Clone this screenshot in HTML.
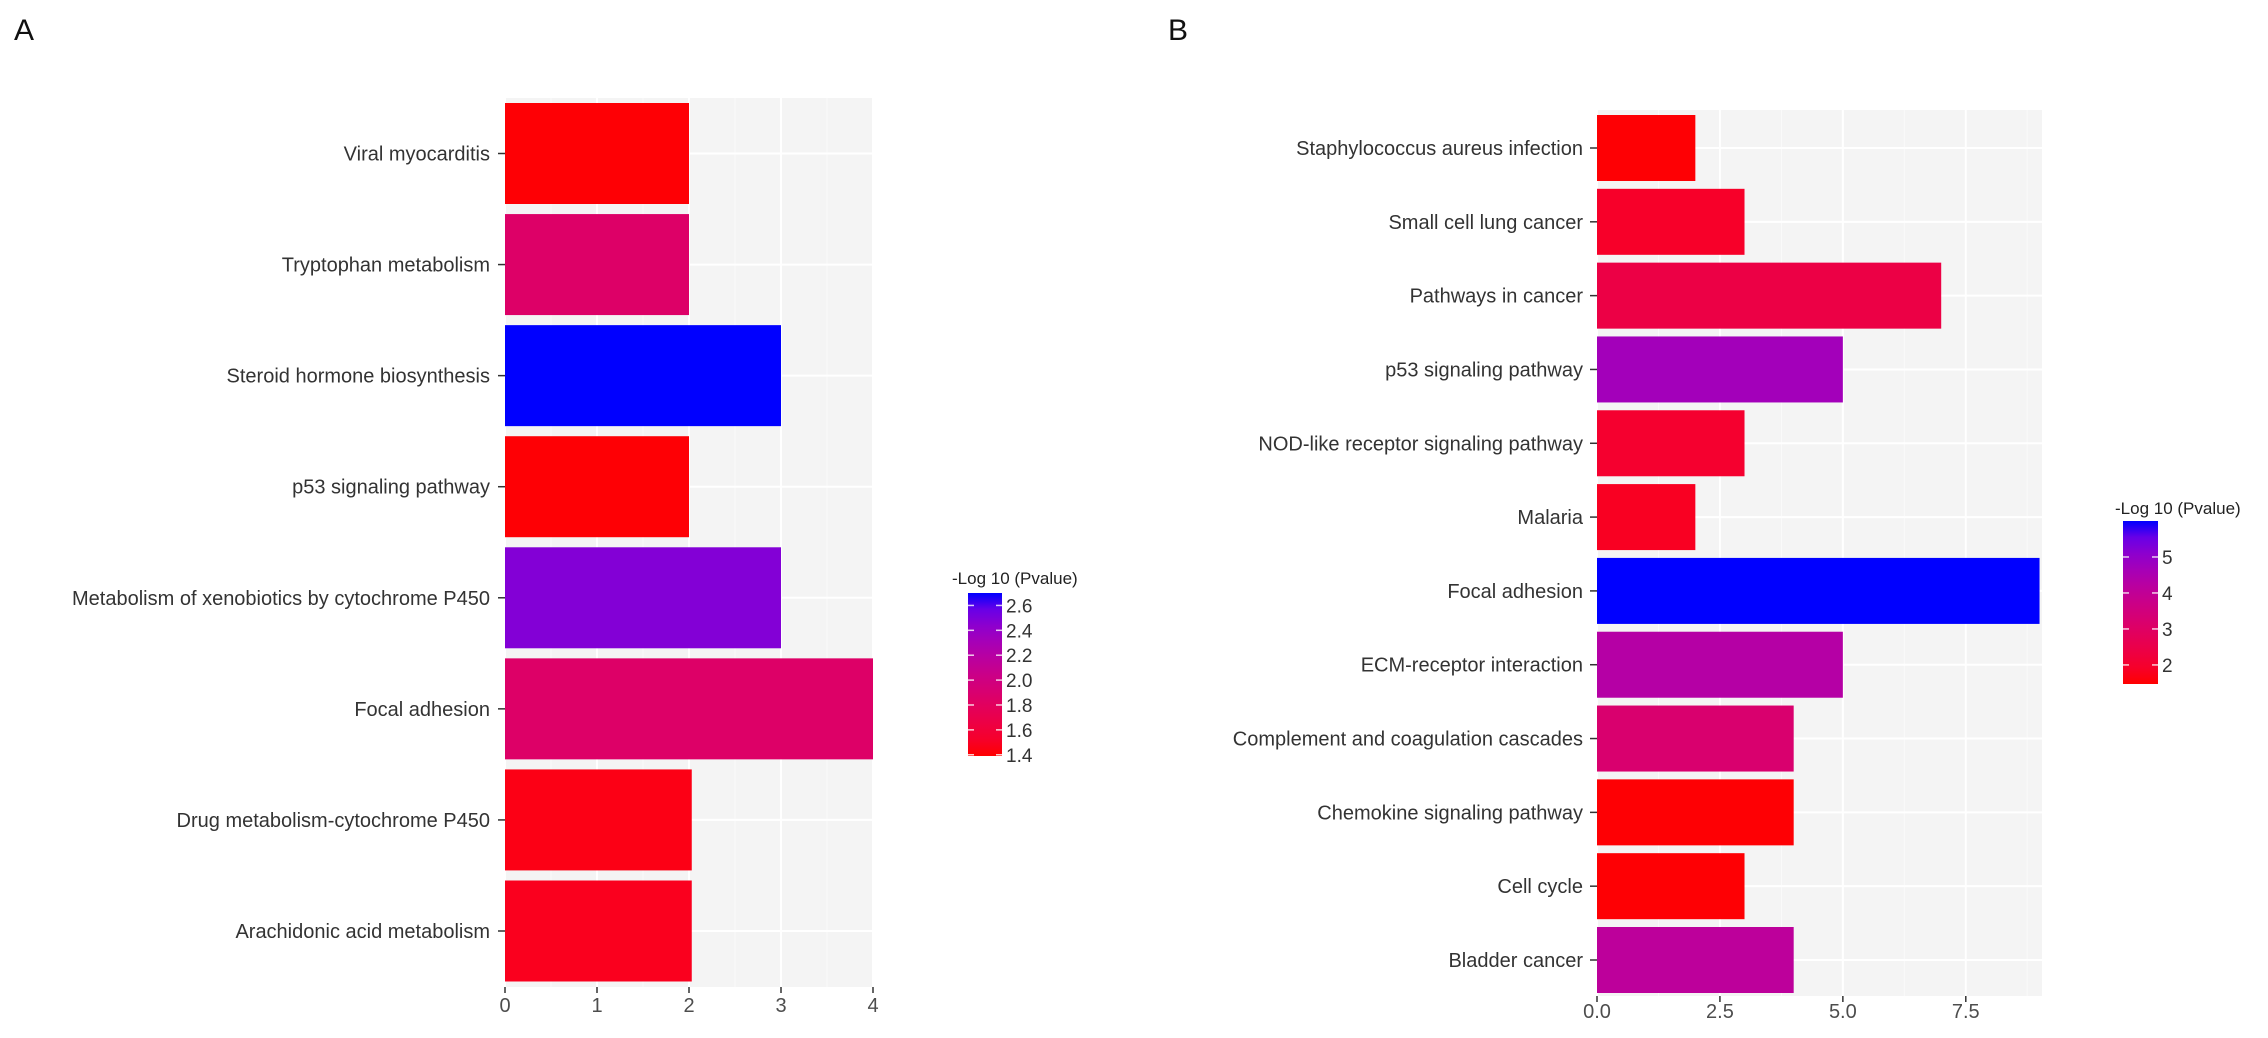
<!DOCTYPE html>
<html><head><meta charset="utf-8">
<style>
html,body{margin:0;padding:0;background:#fff;}
svg{display:block;font-family:"Liberation Sans",Arial,sans-serif;}
</style></head>
<body>
<svg id="fig" width="2268" height="1038" viewBox="0 0 2268 1038" xmlns="http://www.w3.org/2000/svg">
<defs>
<linearGradient id="gradA" x1="0" y1="1" x2="0" y2="0"></linearGradient>
<linearGradient id="gradB" x1="0" y1="1" x2="0" y2="0"></linearGradient>
</defs>
<text x="14" y="40" font-size="30" fill="#111">A</text>
<text x="1168" y="40" font-size="30" fill="#111">B</text>
<g id="gA"></g>
<g id="gB"></g>
</svg>
<script>
const catsA = ["Viral myocarditis","Tryptophan metabolism","Steroid hormone biosynthesis","p53 signaling pathway","Metabolism of xenobiotics by cytochrome P450","Focal adhesion","Drug metabolism-cytochrome P450","Arachidonic acid metabolism"];
const countsA = [2,2,3,2,3,4,2.03,2.03];
const pvalA = [1.40,1.85,2.70,1.40,2.48,1.85,1.44,1.47];
const xTicksA = [0,1,2,3,4];
const xTickLabelsA = ["0","1","2","3","4"];
const legendTicksA = [1.4,1.6,1.8,2.0,2.2,2.4,2.6];
const legendLabelsA = ["1.4","1.6","1.8","2.0","2.2","2.4","2.6"];

const catsB = ["Staphylococcus aureus infection","Small cell lung cancer","Pathways in cancer","p53 signaling pathway","NOD-like receptor signaling pathway","Malaria","Focal adhesion","ECM-receptor interaction","Complement and coagulation cascades","Chemokine signaling pathway","Cell cycle","Bladder cancer"];
const countsB = [2,3,7,5,3,2,9,5,4,4,3,4];
const pvalB = [1.5,1.9,2.4,4.7,2.0,1.8,6.0,4.3,3.2,1.5,1.5,4.1];
const xTicksB = [0,2.5,5,7.5];
const xTickLabelsB = ["0.0","2.5","5.0","7.5"];
const legendTicksB = [2,3,4,5];
const legendLabelsB = ["2","3","4","5"];

const NS="http://www.w3.org/2000/svg";
function mk(tag,attrs,parent){const e=document.createElementNS(NS,tag);for(const k in attrs)e.setAttribute(k,attrs[k]);parent.appendChild(e);return e;}
function s2l(c){c/=255;return c<=0.04045?c/12.92:Math.pow((c+0.055)/1.055,2.4);}
function l2s(c){c=c<=0.0031308?12.92*c:1.055*Math.pow(c,1/2.4)-0.055;return Math.max(0,Math.min(255,Math.round(c*255)));}
function toLab(r,g,b){r=s2l(r);g=s2l(g);b=s2l(b);let X=(r*0.4124+g*0.3576+b*0.1805)/0.95047,Y=r*0.2126+g*0.7152+b*0.0722,Z=(r*0.0193+g*0.1192+b*0.9505)/1.08883;const f=t=>t>0.008856?Math.cbrt(t):7.787*t+16/116;X=f(X);Y=f(Y);Z=f(Z);return [116*Y-16,500*(X-Y),200*(Y-Z)];}
function fromLab(L,a,bb){let Y=(L+16)/116,X=a/500+Y,Z=Y-bb/200;const fi=t=>t*t*t>0.008856?t*t*t:(t-16/116)/7.787;X=fi(X)*0.95047;Y=fi(Y);Z=fi(Z)*1.08883;const r=X*3.2406+Y*-1.5372+Z*-0.4986,g=X*-0.9689+Y*1.8758+Z*0.0415,b=X*0.0557+Y*-0.2040+Z*1.0570;return "rgb("+l2s(r)+","+l2s(g)+","+l2s(b)+")";}
const LR=toLab(255,0,0),LB=toLab(0,0,255);
function col(t){t=Math.max(0,Math.min(1,t));return fromLab(LR[0]+(LB[0]-LR[0])*t,LR[1]+(LB[1]-LR[1])*t,LR[2]+(LB[2]-LR[2])*t);}

function drawPanel(g,cfg){
  const {cats,counts,pvals,xTicks,xLabels,left,right,top,bottom,xmax,firstC,lastC,barH,minor,pmin,pmax,tickLblY,lblX,prefix}=cfg;
  const xs=v=>left+(v/xmax)*(right-left);
  const slot=(lastC-firstC)/(cats.length-1);
  const ys=i=>firstC+i*slot;
  const bg=mk("rect",{x:left,y:top,width:right-left,height:bottom-top,fill:"#f4f4f4"},g);
  
  
  minor.forEach(v=>{const l=mk("line",{x1:xs(v),x2:xs(v),y1:top,y2:bottom,stroke:"#fafafa","stroke-width":1},g);
    
    });
  xTicks.forEach(v=>{const l=mk("line",{x1:xs(v),x2:xs(v),y1:top,y2:bottom,stroke:"#fff","stroke-width":2},g);
    
    });
  cats.forEach((c,i)=>{const l=mk("line",{x1:left,x2:right,y1:ys(i),y2:ys(i),stroke:"#fff","stroke-width":2},g);
    
    });
  cats.forEach((c,i)=>{
    const t=(pvals[i]-pmin)/(pmax-pmin);
    const r=mk("rect",{x:xs(0),y:ys(i)-barH/2,width:xs(counts[i])-xs(0),height:barH,fill:col(t)},g);
    
    
    const tk=mk("line",{x1:left-7,x2:left,y1:ys(i),y2:ys(i),stroke:"#333","stroke-width":1.5},g);
    
    
    const tx=mk("text",{x:lblX,y:ys(i)+7,"text-anchor":"end","font-size":20,fill:"#333"},g);
    tx.textContent=c;
    
    
  });
  xTicks.forEach((v,i)=>{
    const tk=mk("line",{x1:xs(v),x2:xs(v),y1:bottom,y2:bottom+6,stroke:"#333","stroke-width":1.5},g);
    
    
    const tx=mk("text",{x:xs(v),y:tickLblY,"text-anchor":"middle","font-size":20,fill:"#4d4d4d"},g);
    tx.textContent=xLabels[i];
    
    
  });
}
function drawLegend(g,cfg){
  const {grad,x,w,top,bottom,vmin,vmax,ticks,labels,titleX,titleY,prefix}=cfg;
  const gr=document.getElementById(grad);
  for(let k=0;k<=10;k++){mk("stop",{offset:(k*10)+"%","stop-color":col(k/10)},gr);}
  const ys=v=>bottom-(v-vmin)/(vmax-vmin)*(bottom-top);
  const tt=mk("text",{x:titleX,y:titleY,"font-size":17,fill:"#222"},g);
  tt.textContent="-Log 10 (Pvalue)";
  
  
  const r=mk("rect",{x:x,y:top,width:w,height:bottom-top,fill:"url(#"+grad+")"},g);
  
  
  ticks.forEach((v,i)=>{
    [[x,x+6],[x+w-6,x+w]].forEach(p=>{const l=mk("line",{x1:p[0],x2:p[1],y1:ys(v),y2:ys(v),stroke:"#fff","stroke-width":1.5,opacity:0.8},g);
      
      });
    const tx=mk("text",{x:x+w+4,y:ys(v)+7,"font-size":19,fill:"#333"},g);
    tx.textContent=labels[i];
    
    
  });
}
drawPanel(document.getElementById("gA"),{cats:catsA,counts:countsA,pvals:pvalA,xTicks:xTicksA,xLabels:xTickLabelsA,
  left:505,right:873,top:98,bottom:987,xmax:4,firstC:153.5,lastC:931,barH:101,minor:[0.5,1.5,2.5,3.5],pmin:1.39,pmax:2.70,tickLblY:1012,lblX:490,prefix:"a"});
drawLegend(document.getElementById("gA"),{grad:"gradA",x:968,w:34,top:593,bottom:756,vmin:1.39,vmax:2.70,ticks:legendTicksA,labels:legendLabelsA,titleX:952,titleY:584,prefix:"a"});
drawPanel(document.getElementById("gB"),{cats:catsB,counts:countsB,pvals:pvalB,xTicks:xTicksB,xLabels:xTickLabelsB,
  left:1597,right:2042,top:110,bottom:996,xmax:9.05,firstC:148,lastC:960,barH:66,minor:[1.25,3.75,6.25,8.75],pmin:1.47,pmax:6.0,tickLblY:1018,lblX:1583,prefix:"b"});
drawLegend(document.getElementById("gB"),{grad:"gradB",x:2123,w:35,top:521,bottom:684,vmin:1.47,vmax:6.0,ticks:legendTicksB,labels:legendLabelsB,titleX:2115,titleY:514,prefix:"b"});
</script>
</body></html>
